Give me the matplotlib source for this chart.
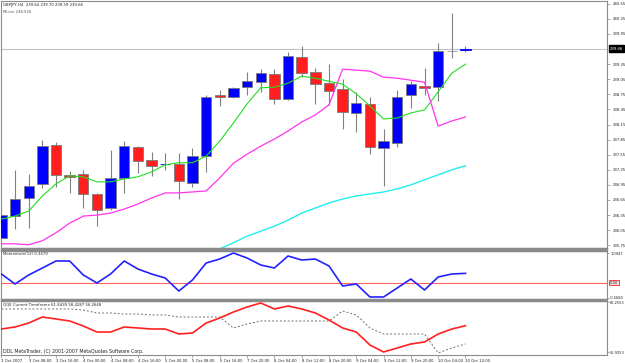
import matplotlib
matplotlib.use("Agg")
import matplotlib.pyplot as plt
import matplotlib.transforms as mtransforms
from matplotlib.patches import Rectangle
import numpy as np

plt.rcParams["font.family"] = ["DejaVu Sans"]
plt.rcParams["font.stretch"] = "condensed"

# ---------------- data ----------------
opens  = [235.89, 236.33, 236.69, 236.97, 237.74, 237.15, 237.17, 236.77, 236.49, 237.09,
          237.70, 237.44, 237.36, 237.36, 236.99, 237.52, 238.74, 238.70, 238.89, 238.99,
          239.15, 238.66, 239.49, 239.19, 238.97, 238.86, 238.38, 238.56, 237.68, 237.78,
          238.74, 238.91, 238.89, 239.62, 239.64]
highs  = [236.61, 237.25, 237.17, 237.84, 237.80, 237.23, 237.25, 236.79, 237.64, 237.82,
          237.72, 237.60, 237.58, 237.58, 237.68, 238.74, 238.84, 238.90, 239.19, 239.25,
          239.25, 239.59, 239.71, 239.27, 239.35, 239.05, 238.80, 238.70, 238.06, 238.84,
          239.01, 239.27, 239.77, 240.37, 239.70]
lows   = [235.87, 236.07, 236.09, 236.89, 236.91, 236.79, 236.49, 236.13, 236.45, 236.79,
          237.19, 237.13, 237.25, 236.67, 236.91, 237.21, 238.52, 238.68, 238.74, 238.80,
          238.56, 238.64, 239.09, 238.56, 238.54, 238.06, 238.00, 237.56, 236.93, 237.70,
          238.48, 238.74, 238.62, 239.47, 239.59]
closes = [236.35, 236.67, 236.93, 237.72, 237.15, 237.11, 236.77, 236.45, 237.09, 237.72,
          237.42, 237.33, 237.37, 237.03, 237.52, 238.70, 238.70, 238.88, 239.01, 239.17,
          238.66, 239.51, 239.17, 238.95, 238.82, 238.40, 238.58, 237.70, 237.82, 238.70,
          238.95, 238.88, 239.61, 239.62, 239.66]

ma_green = [236.27, 236.33, 236.43, 236.73, 236.97, 237.13, 237.11, 237.01, 237.01, 237.07,
            237.11, 237.21, 237.35, 237.39, 237.39, 237.52, 237.82, 238.18, 238.56, 238.88,
            238.89, 238.97, 239.11, 239.07, 239.01, 238.95, 238.76, 238.52, 238.26, 238.28,
            238.38, 238.44, 238.80, 239.17, 239.35]
ma_magenta = [235.78, 235.78, 235.76, 235.84, 236.00, 236.19, 236.33, 236.35, 236.39, 236.47,
              236.57, 236.69, 236.79, 236.79, 236.81, 236.83, 237.09, 237.38, 237.56, 237.72,
              237.86, 238.02, 238.20, 238.34, 238.54, 239.25, 239.23, 239.21, 239.09, 239.07,
              239.03, 238.99, 238.12, 238.22, 238.30]
cyan_start = 15
ma_cyan = [235.56, 235.68, 235.80, 235.93, 236.03, 236.13, 236.25, 236.39, 236.49, 236.59,
           236.67, 236.73, 236.77, 236.81, 236.87, 236.95, 237.05, 237.15, 237.25, 237.33]

momentum = [0.324, -0.048, 0.287, 0.547, 0.808, 0.808, 0.287, -0.011, 0.324, 0.808,
            0.510, 0.324, 0.175, -0.309, 0.101, 0.733, 0.882, 1.106, 0.919, 0.659,
            0.547, 0.994, 0.845, 0.882, 0.622, -0.123, -0.048, -0.532, -0.532, -0.197,
            0.138, -0.272, 0.212, 0.324, 0.348]

qqe_rsi = [61.22, 61.60, 62.34, 63.46, 63.09, 62.72, 61.78, 60.66, 60.66, 61.60,
           61.41, 61.22, 61.22, 60.29, 60.48, 62.34, 63.28, 64.40, 65.33, 66.08,
           64.96, 65.52, 64.96, 64.21, 62.90, 61.41, 60.66, 58.24, 56.93, 57.68,
           58.43, 58.80, 60.29, 61.22, 61.84]
qqe_trail = [64.96, 64.96, 64.96, 64.96, 64.96, 64.96, 64.77, 64.21, 64.21, 64.02,
             64.02, 63.84, 63.84, 63.46, 63.46, 63.46, 63.46, 61.41, 62.16, 62.72,
             62.72, 62.72, 62.72, 62.72, 62.72, 64.58, 63.84, 61.41, 60.29, 60.29,
             60.29, 60.29, 56.75, 57.68, 58.43]

time_labels = ["3 Oct 2007", "3 Oct 08:00", "3 Oct 16:00", "4 Oct 00:00", "4 Oct 08:00",
               "4 Oct 16:00", "5 Oct 00:00", "5 Oct 08:00", "5 Oct 16:00", "7 Oct 20:00",
               "8 Oct 04:00", "8 Oct 12:00", "8 Oct 20:00", "9 Oct 04:00", "9 Oct 12:00",
               "9 Oct 20:00", "10 Oct 04:00", "10 Oct 12:00"]
price_ticks = [235.75, 236.05, 236.35, 236.65, 236.95, 237.25, 237.55, 237.85, 238.15,
               238.45, 238.75, 239.05, 239.35, 239.95, 240.25, 240.55]
last_price = 239.66
mom_ticks = [1.0947, -0.5680]
qqe_ticks = [66.2553, 56.9253]

# ---------------- layout helpers ----------------
W, H = 625, 363
fig = plt.figure(figsize=(W / 100, H / 100), dpi=100)
fig.patch.set_facecolor("white")

def rect(top, bottom, left=1, right=607):
    return [left / W, 1 - bottom / H, (right - left) / W, (bottom - top) / H]

ax_main = fig.add_axes(rect(1, 248))
ax_mom = fig.add_axes(rect(251, 299))
ax_qqe = fig.add_axes(rect(301, 355))

n = len(opens)
x = np.arange(n)
xlim = (-0.03, 44.37)
FS = 3.1
GRID = "#8c8c8c"
TXT = "#222222"

for ax in (ax_main, ax_mom, ax_qqe):
    ax.set_xlim(*xlim)
    ax.set_facecolor("white")
    for s in ax.spines.values():
        s.set_color(GRID)
        s.set_linewidth(0.8)
    ax.yaxis.tick_right()
    ax.tick_params(axis="y", which="both", length=2, width=0.5, colors=GRID,
                   labelcolor=TXT, labelsize=FS, pad=2)
    ax.tick_params(axis="x", which="both", bottom=False, labelbottom=False)

for ax in (ax_mom, ax_qqe):
    ax.tick_params(axis="y", length=1.5, pad=0.8, labelsize=2.9)

# separators
for top, bot in ((248, 251), (299, 301)):
    fig.patches.append(Rectangle((1 / W, 1 - bot / H), 606 / W, (bot - top) / H,
                                 transform=fig.transFigure, color="#8a8a8a", zorder=5))

# ---------------- main chart ----------------
ax_main.set_ylim(235.696, 240.604)
ax_main.axhline(last_price, color="#c0c0c8", lw=0.8, zorder=1)

o = np.array(opens); c = np.array(closes)
hi = np.array(highs); lo = np.array(lows)
ax_main.vlines(x, lo, hi, color="#808080", lw=0.8, zorder=2)
colors = []
for oo, cc in zip(o, c):
    if cc > oo:
        colors.append("#0000ff")
    elif cc < oo:
        colors.append("#ff1f1f")
    else:
        colors.append("#909090")
bottoms = np.minimum(o, c)
heights = np.abs(c - o)
ax_main.bar(x, heights, width=0.76, bottom=bottoms, color=colors,
            edgecolor=["#7a7a7a" if h > 0.03 else col for h, col in zip(heights, colors)],
            linewidth=0.6, zorder=3)

ax_main.plot(x, ma_green, color="#22dd22", lw=0.8, zorder=4)
ax_main.plot(x, ma_magenta, color="#ff33ee", lw=0.9, zorder=4)
ax_main.plot(x[cyan_start:], ma_cyan, color="#22eeee", lw=1.0, zorder=4)

ax_main.set_yticks(price_ticks)
ax_main.set_yticklabels([f"{t:.2f}" for t in price_ticks])
trans = mtransforms.blended_transform_factory(ax_main.transAxes, ax_main.transData)
ax_main.text(1.005, last_price, f"{last_price:.2f}", transform=trans, fontsize=FS,
             color="white", va="center", ha="left",
             bbox=dict(boxstyle="square,pad=0.25", fc="black", ec="black"), zorder=10,
             clip_on=False)

ax_main.text(0.004, 0.993, "GBPJPY,H4  239.64 239.70 239.59 239.66", transform=ax_main.transAxes,
             fontsize=FS, va="top", ha="left", color=TXT)
ax_main.text(0.004, 0.965, "MLine 238.550", transform=ax_main.transAxes,
             fontsize=FS, va="top", ha="left", color="#555555")

# ---------------- momentum ----------------
ax_mom.set_ylim(-0.607, 1.180)
ax_mom.axhline(0.0, color="#ff6060", lw=0.8, zorder=1)
ax_mom.plot(x, momentum, color="#2222ff", lw=1.2, zorder=3)
ax_mom.set_yticks(mom_ticks)
ax_mom.set_yticklabels([f"{t:.4f}" for t in mom_ticks])
tm = mtransforms.blended_transform_factory(ax_mom.transAxes, ax_mom.transData)
ax_mom.text(1.005, 0.0, "0.00", transform=tm, fontsize=FS, color=TXT, va="center",
            ha="left", clip_on=False,
            bbox=dict(boxstyle="square,pad=0.15", fc="#ffe0e0", ec="#ee2222", lw=0.6))
ax_mom.text(0.004, 0.97, "Momentum(12) 0.3479", transform=ax_mom.transAxes,
            fontsize=FS, va="top", ha="left", color=TXT)

# ---------------- QQE ----------------
ax_qqe.set_ylim(56.37, 66.45)
ax_qqe.plot(x, qqe_trail, color="#707070", lw=0.7, ls=(0, (2, 2)), zorder=2)
ax_qqe.plot(x, qqe_rsi, color="#ff2020", lw=1.2, zorder=3)
ax_qqe.set_yticks(qqe_ticks)
ax_qqe.set_yticklabels([f"{t:.4f}" for t in qqe_ticks])
ax_qqe.text(0.004, 0.97, "QQE Current Timeframe 61.8439 58.4287 56.2648",
            transform=ax_qqe.transAxes, fontsize=FS, va="top", ha="left", color=TXT)
ax_qqe.text(0.004, 0.02, "DDL MetaTrader, (C) 2001-2007 MetaQuotes Software Corp.",
            transform=ax_qqe.transAxes, fontsize=3.8, va="bottom", ha="left", color=TXT)

ax_qqe.set_xticks(x[::2])
ax_qqe.set_xticklabels(time_labels)
ax_qqe.tick_params(axis="x", bottom=True, labelbottom=True, length=2, width=0.5,
                   colors=GRID, labelcolor=TXT, labelsize=FS, pad=1)
for lab in ax_qqe.get_xticklabels():
    lab.set_ha("left")

fig.savefig("out.png", dpi=100, facecolor="white")
